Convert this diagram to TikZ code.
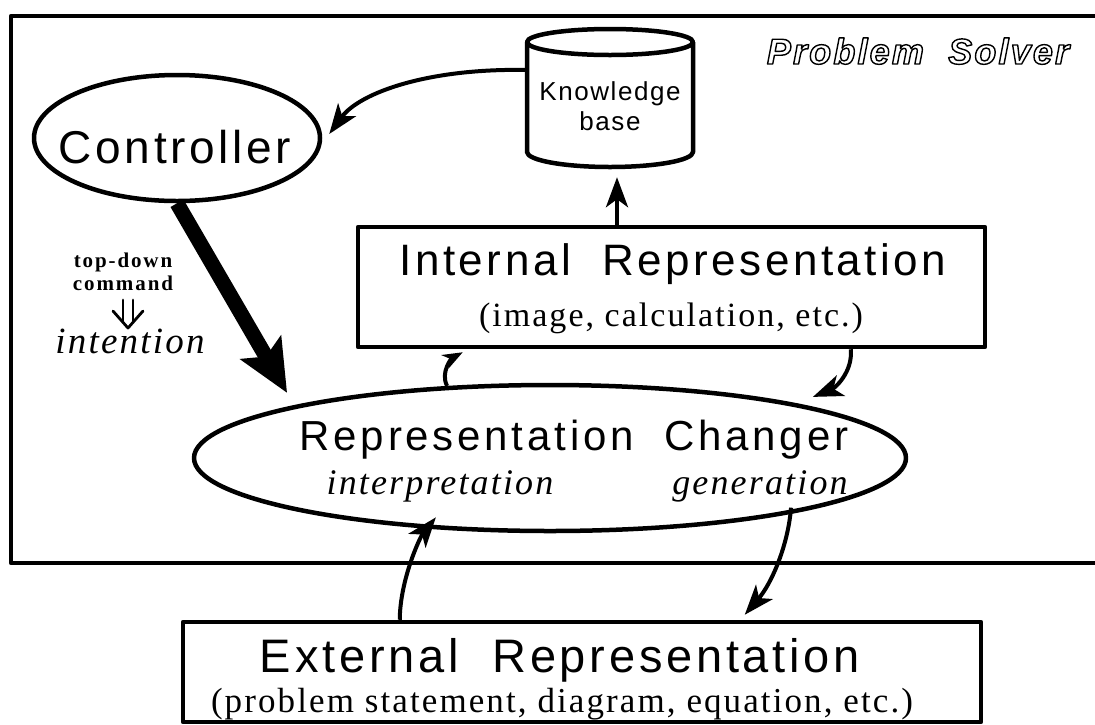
\documentclass[tikz,border=0pt]{standalone}
\usepackage{fontspec}
\usetikzlibrary{shapes.geometric,arrows.meta,calc}
\setmainfont{Liberation Serif}
\newfontfamily\hvfont{Liberation Sans}[LetterSpace=8]
\newfontfamily\tmfont{Liberation Serif}[LetterSpace=6]
\newfontfamily\smfont{Liberation Serif}[LetterSpace=9]
% stroke-only glyphs for the outlined title
\newcommand\outlined[1]{\special{pdf:literal direct 1 Tr 1.4 w}#1\special{pdf:literal direct 0 Tr}}
\newcommand\fs[1]{\fontsize{#1}{#1}\selectfont}

\begin{document}
\begin{tikzpicture}[x=1pt,y=-1pt,line join=round,
  shapeline/.style={line width=4.5pt},
  conn/.style={line width=4pt,-{Stealth[length=30pt,width=22pt,inset=8pt]}},
  smallconn/.style={line width=4pt,-{Stealth[length=20pt,width=15pt,inset=6pt]}},
  sans/.style={inner sep=0pt,anchor=base,font=\hvfont},
  serif/.style={inner sep=0pt,anchor=base,font=\tmfont}]
\useasboundingbox (0,0) rectangle (1095,724);

% frame of the problem solver, open to the right
\draw[shapeline] (1095,16) -- (11,16) -- (11,563) -- (1095,563);
\node[sans,font=\hvfont\itshape\bfseries\fs{36}\addfontfeature{LetterSpace=6}] (ps) at (918,64) {\outlined{Problem~~Solver}};

% controller
\node[ellipse,draw,shapeline,minimum width=286pt,minimum height=126pt,inner sep=0pt] (ctrl) at (177,138) {};
\node[sans,font=\hvfont\fs{46}] (ctrlt) at (175,163) {Controller};

% knowledge base drum
\node[minimum width=166pt,minimum height=138pt,inner sep=0pt] (kb) at (610,98) {};
\draw[shapeline] (610,42) ellipse [x radius=83,y radius=13];
\draw[shapeline] (527,42) -- (527,152)
  .. controls (527,160.3) and (564.2,167) .. (610,167)
  .. controls (655.8,167) and (693,160.3) .. (693,152) -- (693,42);
\node[sans,font=\hvfont\fs{26}\addfontfeature{LetterSpace=6}] (kbt1) at (610,100) {Knowledge};
\node[sans,font=\hvfont\fs{26}\addfontfeature{LetterSpace=6}] (kbt2) at (610,130) {base};

% internal representation
\node[draw,shapeline,minimum width=627pt,minimum height=120pt,inner sep=0pt] (ir) at (671.5,287) {};
\node[sans,font=\hvfont\fs{44}] (irt) at (673,275) {Internal~~Representation};
\node[serif,font=\tmfont\fs{34}] (irs) at (671,326) {(image, calculation, etc.)};

% representation changer
\node[ellipse,draw,shapeline,minimum width=712pt,minimum height=146pt,inner sep=0pt] (rc) at (550,458) {};
\node[sans,font=\hvfont\fs{42}\addfontfeature{LetterSpace=9}] (rct) at (574,450) {Representation~~Changer};
\node[serif,font=\tmfont\itshape\fs{36}] (rci) at (440,494) {interpretation};
\node[serif,font=\tmfont\itshape\fs{36}] (rcg) at (760,494) {generation};

% external representation
\node[draw,shapeline,minimum width=798pt,minimum height=100pt,inner sep=0pt] (er) at (582,672) {};
\node[sans,font=\hvfont\fs{47}] (ert) at (560,672) {External~~Representation};
\node[serif,font=\tmfont\fs{35}] (ers) at (562,712) {(problem statement, diagram, equation, etc.)};

% top-down command label
\node[serif,font=\smfont\bfseries\fs{21}] (td1) at (123,267) {top-down};
\node[serif,font=\smfont\bfseries\fs{21}] (td2) at (123,290) {command};
\node[serif,font=\tmfont\itshape\fs{37}] (td4) at (130,353) {intention};
% double-shafted down arrow between the two lines
\draw[line width=2.8pt,line cap=round] (123,300) -- (123,322) (133,300) -- (133,322);
\draw[line width=2.8pt,line cap=round] (113,311) -- (128,328) -- (143,311);

% connectors
\draw[conn] ([yshift=28pt]kb.west) .. controls (430,68) and (360,92) .. ([shift={(7pt,4pt)}]ctrl.east);
\draw[conn] ($(kb.south |- ir.north)+(7,0)$) -- ($(kb.south)+(7,10)$);
\draw[line width=15pt,-{Stealth[length=52pt,width=46pt,inset=10pt]}] (ctrl.south) -- ([yshift=14pt]rc.169);
\draw[smallconn] (rc.145) .. controls (440,372) and (452,358) .. ($(ir.south west)+(107,3)$);
\draw[conn] ($(ir.south west)+(495,0)$) .. controls (853,372) and (835,388) .. ([yshift=10pt]rc.11);
\draw[conn] ($(er.north west)+(219,0)$) .. controls (400,580) and (420,537) .. ([yshift=12pt]rc.212);
\draw[conn] ([yshift=6pt]rc.347) .. controls (788,545) and (772,583) .. ($(er.north west)+(564,-5)$);
\end{tikzpicture}
\end{document}
